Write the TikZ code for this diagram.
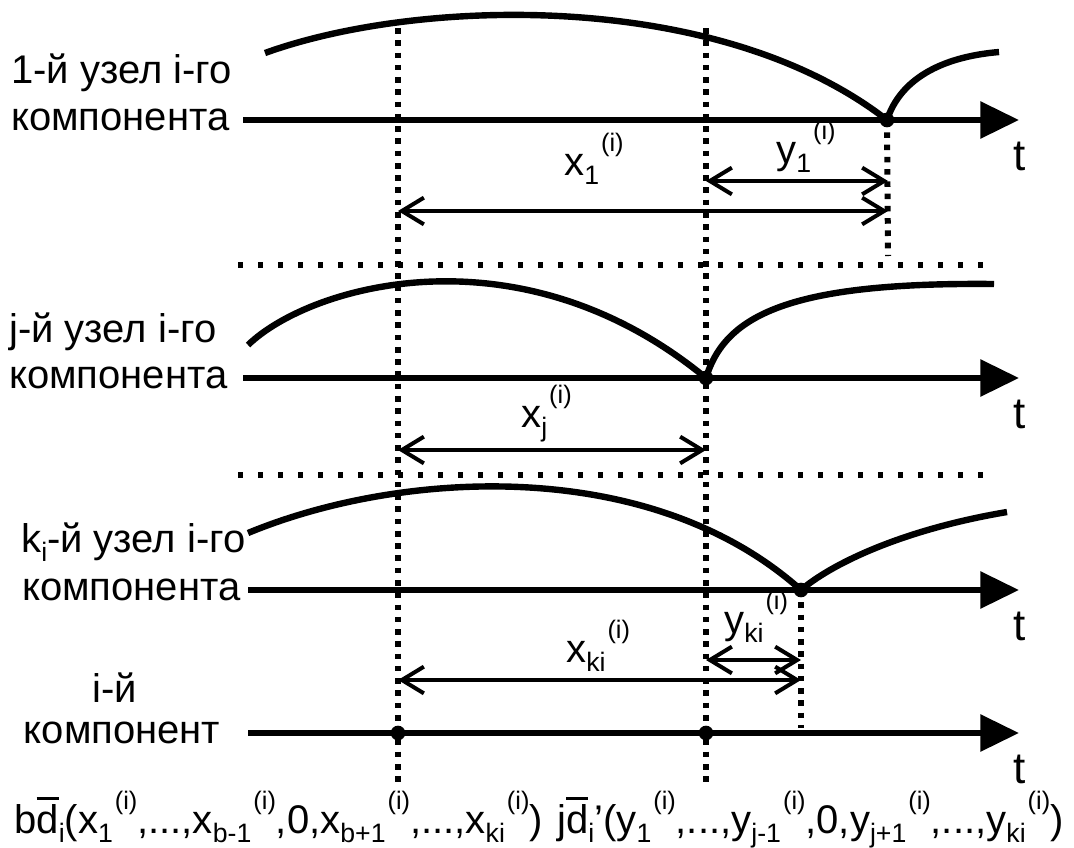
\documentclass[tikz,border=0pt]{standalone}
\usepackage{fontspec}
\setmainfont{Liberation Sans}
\usetikzlibrary{arrows.meta}
\newcommand{\lsb}[1]{\raisebox{-7pt}{\fontsize{20}{20}\selectfont #1}}
\newcommand{\lsp}[1]{\kern1.5pt\raisebox{18pt}{\fontsize{19}{19}\selectfont #1}}
\newcommand{\dbar}{{\setbox0\hbox{d}\rlap{\raisebox{25pt}{\rule{\wd0}{1.8pt}}}\box0}}
\begin{document}
\begin{tikzpicture}[x=0.75pt,y=-0.75pt,
  axis/.style={line width=4.5pt, arrows={-Triangle[length=29pt,width=27pt]}},
  curve/.style={line width=4.8pt, line cap=butt},
  dim/.style={line width=3pt, arrows={Straight Barb[length=16.5pt,width=20pt]-Straight Barb[length=16.5pt,width=20pt]}},
  vdot/.style={line width=4.5pt, dash pattern=on 4.2pt off 5pt},
  hdot/.style={line width=3.8pt, dash pattern=on 4pt off 11pt},
  txt/.style={inner sep=0pt, anchor=base west, font=\fontsize{30}{36}\selectfont},
  tlab/.style={inner sep=0pt, anchor=base west, font=\fontsize{33}{40}\selectfont},
  jdot/.style={fill=black}]
\useasboundingbox (0,0) rectangle (1074,847);

% axes
\coordinate (a1s) at (243,120); \coordinate (a1e) at (1019,120);
\coordinate (a2s) at (243,378); \coordinate (a2e) at (1019,378);
\coordinate (a3s) at (248,590); \coordinate (a3e) at (1019,590);
\coordinate (a4s) at (248,733); \coordinate (a4e) at (1019,733);
\draw[axis] (a1s) -- (a1e);
\draw[axis] (a2s) -- (a2e);
\draw[axis] (a3s) -- (a3e);
\draw[axis] (a4s) -- (a4e);
\node[tlab] (t1) at (1013,170) {t};
\node[tlab] (t2) at (1013,428) {t};
\node[tlab] (t3) at (1013,640) {t};
\node[tlab] (t4) at (1013,783) {t};

% junction points
\coordinate (p1) at (887,120);
\coordinate (p2) at (706,378);
\coordinate (p3) at (801,590);
\coordinate (p4a) at (398,733);
\coordinate (p4b) at (706,733);

% dotted verticals
\coordinate (vAt) at (398,28); \coordinate (vAb) at (398,788);
\coordinate (vBt) at (706,28); \coordinate (vBb) at (706,788);
\coordinate (vCb) at (888,256);
\coordinate (vDb) at (801,728);
\draw[vdot] (vAt) -- (vAb);
\draw[vdot] (vBt) -- (vBb);
\draw[vdot] (p1) -- (vCb);
\draw[vdot] (p3) -- (vDb);

% dotted horizontals
\coordinate (h1l) at (238,265); \coordinate (h1r) at (994,265);
\coordinate (h2l) at (238,475); \coordinate (h2r) at (994,475);
\draw[hdot] (h1l) -- (h1r);
\draw[hdot] (h2l) -- (h2r);

% curves
\draw[curve] (265,53) .. controls (420,-3) and (720,-10) .. (p1);
\draw[curve] (p1) .. controls (900,80) and (940,57) .. (999,52);
\draw[curve] (248,345) .. controls (310,285) and (520,225) .. (p2);
\draw[curve] (p2) .. controls (725,315) and (790,282) .. (994,284);
\draw[curve] (248,533) .. controls (400,470) and (650,455) .. (p3);
\draw[curve] (p3) .. controls (830,565) and (900,530) .. (1007,512);

\foreach \p in {p1,p2,p3,p4a,p4b} \fill[jdot] (\p) circle (5.5pt);

% dimension arrows
\coordinate (y1l) at (706,181); \coordinate (y1r) at (888,181);
\coordinate (x1l) at (398,211); \coordinate (x1r) at (888,211);
\coordinate (xjl) at (398,450); \coordinate (xjr) at (706,450);
\coordinate (ykl) at (706,660); \coordinate (ykr) at (801,660);
\coordinate (xkl) at (398,680); \coordinate (xkr) at (801,680);
\draw[dim] (y1l) -- (y1r);
\draw[dim] (x1l) -- (x1r);
\draw[dim] (xjl) -- (xjr);
\draw[dim] (ykl) -- (ykr);
\draw[dim] (xkl) -- (xkr);

\node[txt] (lx1) at (564,175) {x\lsb{1}\lsp{(i)}};
\node[txt] (ly1) at (776,163) {y\lsb{1}\lsp{(i)}};
\node[txt] (lxj) at (521,427) {x\lsb{j}\lsp{(i)}};
\node[txt] (lyk) at (724,633) {y\lsb{ki}\lsp{(i)}};
\node[txt] (lxk) at (566,662) {x\lsb{ki}\lsp{(i)}};

% left labels
\node[txt] (n1a) at (11,83) {1-й узел і-го};
\node[txt] (n1b) at (11,130) {компонента};
\node[txt] (n2a) at (9,342) {j-й узел і-го};
\node[txt] (n2b) at (9,388) {компонента};
\node[txt] (n3a) at (21,552) {k\lsb{i}-й узел і-го};
\node[txt] (n3b) at (22,600) {компонента};
\node[txt, anchor=base] (n4a) at (115,702) {і-й};
\node[txt, anchor=base] (n4b) at (122,743) {компонент};

% bottom formulas
\node[txt] (f1) at (14,833) {b\dbar\lsb{i}(x\lsb{1}\lsp{(i)},...,x\lsb{b-1}\lsp{(i)},0,x\lsb{b+1}\lsp{(i)},...,x\lsb{ki}\lsp{(i)})};
\node[txt] (f2) at (557,833) {j\dbar\lsb{i}’(y\lsb{1}\lsp{(i)},...,y\lsb{j-1}\lsp{(i)},0,y\lsb{j+1}\lsp{(i)},...,y\lsb{ki}\lsp{(i)})};
\end{tikzpicture}
\end{document}
